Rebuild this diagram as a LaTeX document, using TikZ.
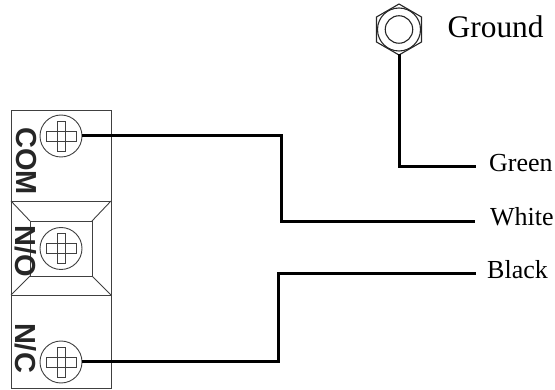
\documentclass[tikz,border=0pt]{standalone}
\usepackage{fontspec}
\setmainfont{Liberation Serif}
\newfontfamily\armfont{Liberation Sans}
\tikzset{
  outline/.style={draw=black!75,line width=0.9pt},
  wire/.style={draw=black,line width=3pt,line cap=butt,line join=miter},
  termlabel/.style={inner sep=0pt,rotate=-90,text=black!85,font=\armfont\bfseries\fontsize{29}{29}\selectfont},
  wirelabel/.style={inner sep=0pt,anchor=base west,font=\fontsize{26}{26}\selectfont},
  screwhead/.style={circle,draw=black!75,line width=0.9pt,minimum size=42pt,inner sep=0pt},
  nutcircle/.style={circle,draw=black!85,line width=1.1pt,inner sep=0pt},
}
\newcommand{\crosshead}[1]{%
  \draw[outline] ([shift={(-15pt,-5pt)}]#1.center) -- ++(11pt,0) -- ++(0,-10pt) -- ++(8pt,0) -- ++(0,10pt) -- ++(11pt,0) -- ++(0,10pt) -- ++(-11pt,0) -- ++(0,10pt) -- ++(-8pt,0) -- ++(0,-10pt) -- ++(-11pt,0) -- cycle;%
  \draw[outline] ([shift={(-4pt,-5pt)}]#1.center) -- ++(8pt,0) -- ++(0,10pt) -- ++(-8pt,0) -- cycle;%
}
\begin{document}
\begin{tikzpicture}[x=1pt,y=-1pt]
\useasboundingbox (0,0) rectangle (555,390);
% terminal block
\draw[outline] (11,110) rectangle (111,388);
\draw[outline] (11,201) -- (111,201);
\draw[outline] (11,295) -- (111,295);
\draw[outline] (30,221) rectangle (92,276);
\draw[outline] (11,201) -- (30,221);
\draw[outline] (111,201) -- (92,221);
\draw[outline] (11,295) -- (30,276);
\draw[outline] (111,295) -- (92,276);
% screws
\node[screwhead] (com) at (61,136) {};
\node[screwhead] (no) at (61,248.5) {};
\node[screwhead] (nc) at (61,362) {};
\crosshead{com}
\crosshead{no}
\crosshead{nc}
% labels on block
\node[termlabel] (comlabel) at (26,161) {COM};
\node[termlabel] (nolabel) at (26,251) {N/O};
\node[termlabel] (nclabel) at (26,348) {N/C};
% ground nut
\node[nutcircle,minimum size=43pt] (nut) at (399,29.5) {};
\node[nutcircle,minimum size=27.5pt] (nuti) at (399,29.5) {};
\draw[outline,draw=black!85,line width=1.1pt] (399,4) -- (421.5,17) -- (421.5,42) -- (399,55) -- (376.5,42) -- (376.5,17) -- cycle;
% wire ends
\coordinate (greenend) at (476,167);
\coordinate (whiteend) at (475,222);
\coordinate (blackend) at (476,274);
\coordinate (nutbase) at (399,54);
% wires
\draw[wire] (nutbase) -- (399,167) -- (greenend);
\draw[wire] (com.east) -- (281,136) -- (281,222) -- (whiteend);
\draw[wire] (nc.east) -- (278,362) -- (278,274) -- (blackend);
% text
\node[wirelabel,font=\fontsize{31.4}{32}\selectfont] (ground) at (447.5,37.5) {Ground};
\node[wirelabel] (green) at (489,171.5) {Green};
\node[wirelabel] (white) at (490,226) {White};
\node[wirelabel] (black) at (487,278.5) {Black};
\end{tikzpicture}
\end{document}
